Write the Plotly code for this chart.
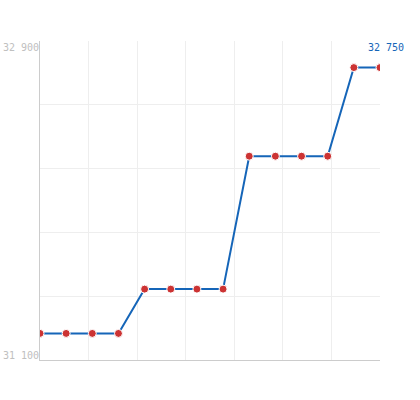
import plotly.graph_objects as go

x_idx = list(range(14))
values = [31250, 31250, 31250, 31250, 31500, 31500, 31500, 31500,
          32250, 32250, 32250, 32250, 32750, 32750]
y_min, y_max = 31100, 32900
y_labels = ["31 100", "32 900"]
last_label = "32 750"

fig = go.Figure()
fig.add_trace(go.Scatter(
    x=x_idx, y=values, mode="lines+markers",
    line=dict(color="#1565b8", width=2),
    marker=dict(color="#cc3333", size=8, line=dict(color="white", width=1)),
    hoverinfo="skip",
))

n = len(x_idx) - 1
fig.update_xaxes(range=[0, n], tickvals=[n * i / 7 for i in range(8)],
                 showticklabels=False, showgrid=True, gridcolor="#eeeeee",
                 zeroline=False, showline=True, linecolor="#cccccc", linewidth=1)
fig.update_yaxes(range=[y_min, y_max],
                 tickvals=[y_min + 360 * i for i in range(6)],
                 showticklabels=False, showgrid=True, gridcolor="#eeeeee",
                 zeroline=False, showline=True, linecolor="#cccccc", linewidth=1)

font = dict(family="DejaVu Sans Mono", size=10, color="#c0c0c0")
fig.add_annotation(x=0, y=y_max, xref="x", yref="y", text=y_labels[1],
                   showarrow=False, xanchor="right", yanchor="top", font=font,
                   xshift=1, yshift=1)
fig.add_annotation(x=0, y=y_min, xref="x", yref="y", text=y_labels[0],
                   showarrow=False, xanchor="right", yanchor="bottom", font=font,
                   xshift=1, yshift=-3)
fig.add_annotation(x=n, y=y_max, xref="x", yref="y", text=last_label,
                   showarrow=False, xanchor="center", yanchor="top",
                   font=dict(family="DejaVu Sans Mono", size=10, color="#1565b8"),
                   xshift=6, yshift=1)

fig.update_layout(width=420, height=400, margin=dict(l=40, r=40, t=41, b=40),
                  plot_bgcolor="white", paper_bgcolor="white", showlegend=False)
fig.write_html("out.html", config={"displayModeBar": False},
               post_script="document.body.style.margin='0';")
